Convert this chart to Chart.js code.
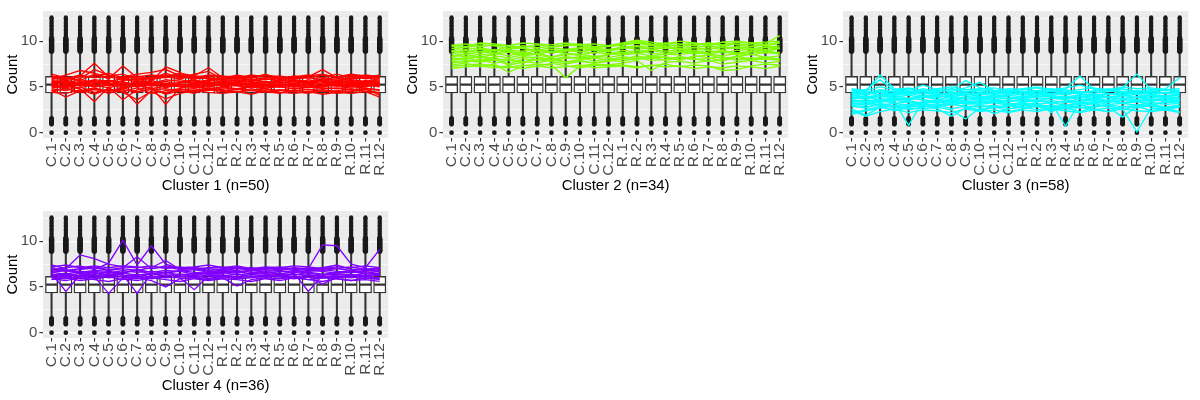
<!DOCTYPE html>
<html><head><meta charset="utf-8">
<script src="https://cdn.jsdelivr.net/npm/chart.js@4.4.1/dist/chart.umd.min.js"></script>
<style>
html,body{margin:0;padding:0;background:#ffffff;}
#wrap{position:relative;width:1200px;height:400px;}
#wrap canvas{position:absolute;}
</style></head><body>
<div id="wrap">
<canvas id="p1" width="400" height="200" style="left:0px;top:0px"></canvas>
<canvas id="p2" width="400" height="200" style="left:400px;top:0px"></canvas>
<canvas id="p3" width="400" height="200" style="left:800px;top:0px"></canvas>
<canvas id="p4" width="400" height="200" style="left:0px;top:200px"></canvas>
</div>
<script>
// ---------- DATA ----------
const categories = ['C.1','C.2','C.3','C.4','C.5','C.6','C.7','C.8','C.9','C.10','C.11','C.12',
                    'R.1','R.2','R.3','R.4','R.5','R.6','R.7','R.8','R.9','R.10','R.11','R.12'];
const yTickValues = [0, 2.5, 5, 7.5, 10, 12.5];
const clusterTitles = ['Cluster 1 (n=50)','Cluster 2 (n=34)','Cluster 3 (n=58)','Cluster 4 (n=36)'];
const clusterColors = ['#FF0000','#80FF00','#00FFFF','#8000FF'];

// boxplot statistics per category (all samples)
const boxQ1     = [4.35,4.35,4.35,4.35,4.35,4.35,4.35,4.35,4.35,4.35,4.35,4.35,4.35,4.35,4.35,4.35,4.35,4.35,4.35,4.35,4.35,4.35,4.35,4.35];
const boxMedian = [5.25,5.25,5.25,5.25,5.25,5.25,5.25,5.25,5.25,5.25,5.25,5.25,5.25,5.25,5.25,5.25,5.25,5.25,5.25,5.25,5.25,5.25,5.25,5.25];
const boxQ3     = [6.15,6.15,6.15,6.15,6.15,6.15,6.15,6.15,6.15,6.15,6.15,6.15,6.15,6.15,6.15,6.15,6.15,6.15,6.15,6.15,6.15,6.15,6.15,6.15];
const whiskerLow  = [1.65,1.65,1.65,1.65,1.65,1.65,1.65,1.65,1.65,1.65,1.65,1.65,1.65,1.65,1.65,1.65,1.65,1.65,1.65,1.65,1.65,1.65,1.65,1.65];
const whiskerHigh = [8.8,8.8,8.8,8.8,8.8,8.8,8.8,8.8,8.8,8.8,8.8,8.8,8.8,8.8,8.8,8.8,8.8,8.8,8.8,8.8,8.8,8.8,8.8,8.8];
// outlier values (same set of values seen in every category)
const upperOutliersDense  = [8.9,9.0,9.1,9.2,9.3,9.4,9.5,9.6,9.7,9.8,9.9,10.0,10.1,10.2,10.3];
const upperOutliersSparse = [10.4,10.55,10.7,10.85,11.0,11.15,11.3,11.45,11.6,11.75,11.9,12.05,12.2,12.35,12.5,12.6];
const lowerOutliers = [0,0.92,1.0,1.1,1.2,1.3,1.4,1.5,1.58];

// member profiles of each cluster (C.1..C.12, R.1..R.12)
const cluster1Lines = [
[5.3,5.5,5.2,5.6,5.1,5.4,5.0,5.3,5.6,5.2,5.4,5.3,5.2,5.4,5.3,5.1,5.3,5.2,5.4,5.3,5.1,5.3,5.2,5.4],
[6.0,5.8,6.2,7.6,6.1,5.9,5.7,6.0,6.3,6.1,5.9,6.0,5.7,5.8,5.6,5.9,5.7,5.8,5.6,5.9,5.7,5.8,5.6,5.9],
[4.7,3.9,4.6,4.9,4.5,4.8,3.1,4.6,4.4,4.7,4.8,4.6,4.9,4.7,5.0,4.8,4.6,4.9,4.7,4.8,4.9,4.7,4.8,4.1],
[5.8,6.1,5.7,6.4,5.9,7.3,6.0,5.8,6.1,5.9,6.2,7.1,6.0,5.9,6.1,5.8,6.0,5.9,6.1,6.9,6.0,5.9,6.0,6.2],
[4.9,5.1,4.8,3.4,5.0,3.6,4.7,5.0,3.1,4.9,5.1,4.8,5.0,4.8,5.1,4.9,5.0,4.8,5.0,4.9,4.8,5.0,4.9,4.6],
[5.5,5.3,5.6,5.4,5.7,5.5,5.3,5.6,7.2,6.6,5.6,5.5,5.4,5.6,5.5,5.3,5.5,5.6,5.4,5.6,5.5,5.4,5.6,5.5],
[5.1,4.9,5.3,5.0,5.2,4.9,5.1,5.3,5.0,5.2,4.9,5.1,5.3,5.1,5.0,5.2,5.1,5.3,5.0,5.2,5.1,5.0,5.2,5.0],
[6.2,5.9,6.3,6.0,6.2,6.4,5.8,6.1,6.0,6.3,6.1,5.9,5.9,6.1,5.8,6.0,6.2,5.9,6.0,5.8,6.1,6.2,5.9,6.0],
[4.6,4.8,4.5,4.7,4.6,4.9,4.5,4.7,4.8,4.5,4.6,4.9,4.7,4.5,4.6,4.8,4.4,4.6,4.7,4.5,4.6,4.8,4.5,4.4],
[5.6,5.4,5.8,5.5,5.3,5.7,5.9,5.4,5.6,5.8,5.5,5.7,5.6,5.5,5.7,5.6,5.4,5.6,5.5,5.7,5.6,5.5,5.4,5.7],
[5.0,5.2,4.9,5.3,5.5,5.0,5.2,4.8,5.1,5.3,5.0,5.4,5.1,5.3,5.2,5.0,5.2,5.1,4.9,5.2,5.3,5.1,5.0,5.3],
[5.9,6.3,6.8,6.5,6.0,6.1,6.4,6.6,6.9,6.2,6.0,6.3,6.2,6.0,6.3,6.1,5.9,6.2,6.0,6.3,6.1,6.4,6.2,6.0],
[4.4,4.3,4.7,4.2,4.8,4.4,3.6,4.5,3.7,4.3,4.6,4.4,4.3,4.5,4.2,4.6,4.4,4.3,4.5,4.2,4.4,4.3,4.5,3.9],
[5.4,5.6,5.3,5.7,5.4,5.2,5.5,5.7,5.3,5.5,5.8,5.4,5.5,5.3,5.4,5.6,5.5,5.4,5.6,5.3,5.5,5.6,5.4,5.5],
[5.2,5.0,5.4,5.1,5.3,5.6,5.0,5.2,5.4,5.1,5.3,5.0,5.3,5.2,5.0,5.3,5.2,5.0,5.3,5.1,5.2,5.4,5.3,5.1],
[6.1,5.7,5.9,6.9,6.3,5.8,6.2,5.9,6.5,6.0,6.4,6.7,5.8,6.3,6.0,6.4,5.8,6.1,6.3,6.0,6.4,6.0,6.3,6.1],
[4.8,4.6,5.0,4.4,4.7,4.5,4.9,4.3,4.6,4.8,4.5,4.7,4.5,4.8,4.6,4.4,4.7,4.5,4.3,4.7,4.5,4.6,4.8,4.7],
[5.7,5.5,5.4,5.8,5.6,5.9,5.5,5.3,5.8,5.6,5.4,5.8,5.8,5.7,5.9,5.5,5.8,5.7,5.5,5.8,5.9,5.7,5.5,5.8],
[5.3,5.1,5.5,5.2,4.9,5.3,5.4,5.1,5.2,5.0,5.2,5.6,5.0,5.2,5.4,5.2,5.0,5.4,5.2,5.0,5.3,5.2,5.1,5.6],
[5.5,5.8,5.1,5.3,5.8,5.1,5.6,5.5,4.9,5.4,5.7,5.2,5.4,5.5,5.3,5.5,5.6,5.3,5.8,5.5,5.4,5.1,5.7,5.3],
[4.5,4.9,4.4,4.8,4.3,4.7,4.4,4.9,4.2,4.6,4.3,4.8,4.6,4.4,4.8,4.5,4.3,4.7,4.4,4.6,4.3,4.5,4.7,4.3],
[6.4,6.0,6.1,6.2,6.5,6.0,6.1,6.3,6.1,6.5,6.2,6.1,6.1,6.2,6.0,6.3,6.1,6.0,6.2,6.4,6.0,6.3,6.1,6.3]
];
const cluster2Lines = [
[9.4,9.3,9.6,9.5,9.2,9.5,9.3,9.4,9.6,9.5,9.3,9.4,9.6,9.8,9.5,9.7,9.4,9.6,9.8,9.5,9.7,9.6,9.5,9.8],
[8.2,8.0,8.4,8.1,7.9,8.3,8.2,8.0,8.3,8.1,8.4,8.2,8.5,8.7,8.4,8.6,8.5,8.8,8.6,8.4,8.7,8.5,8.8,8.6],
[7.4,7.6,7.2,7.5,6.6,7.3,7.5,7.4,6.0,7.3,7.5,7.4,7.6,7.9,6.8,7.7,7.8,7.6,7.9,7.5,7.7,7.9,7.6,7.8],
[8.8,9.0,8.7,9.1,8.9,8.6,9.0,8.8,9.1,8.9,8.7,9.0,9.2,9.4,9.1,9.3,9.2,9.0,9.3,9.1,9.4,9.2,9.1,9.3],
[7.8,7.7,8.0,7.6,7.9,7.8,7.6,8.0,7.7,7.9,7.6,7.8,8.1,8.0,8.3,7.9,8.2,8.0,8.1,8.3,7.9,8.2,8.0,8.1],
[9.0,8.7,9.2,8.9,9.1,9.3,8.8,9.1,8.9,9.2,9.0,8.8,9.5,10.0,9.7,9.4,9.6,9.8,9.5,9.9,9.6,9.4,9.7,10.6],
[8.5,8.3,8.6,8.4,8.2,8.5,8.7,8.3,8.5,8.6,8.3,8.5,8.8,8.6,9.0,8.7,8.9,8.6,8.8,9.0,8.7,8.9,8.7,8.8],
[7.2,7.4,7.5,7.3,7.1,7.4,7.2,7.6,7.3,7.1,7.4,7.3,7.4,7.2,7.3,7.5,7.2,7.4,7.3,6.8,6.9,7.3,7.5,7.4],
[9.5,9.7,9.4,9.6,9.5,9.3,9.6,9.4,9.5,9.7,9.4,9.5,9.7,9.9,9.6,9.8,9.7,9.5,9.8,9.6,9.9,9.8,9.6,9.9],
[8.0,8.2,7.8,8.3,7.5,8.1,7.9,8.2,7.7,8.0,8.2,7.9,8.3,8.1,8.4,8.2,8.0,8.3,8.5,8.1,8.3,8.6,8.2,8.4],
[8.7,8.5,8.9,8.6,8.8,8.4,8.6,8.9,8.7,8.5,8.8,8.6,9.0,8.8,9.1,8.9,9.1,8.8,9.0,8.7,9.0,9.1,8.9,9.2],
[7.6,7.9,7.7,8.0,7.4,7.7,8.0,7.8,7.5,7.8,7.6,7.9,7.8,8.2,7.9,8.0,8.3,8.1,7.8,8.0,8.2,7.9,8.1,7.9],
[9.2,9.1,9.3,9.0,9.4,9.2,9.0,9.3,9.1,9.3,9.2,9.1,9.3,9.5,9.3,9.2,9.4,9.3,9.5,9.3,9.2,9.4,9.3,9.5],
[8.3,8.6,8.1,8.7,8.4,8.8,8.5,8.2,8.7,8.4,8.1,8.6,8.6,9.0,8.7,8.5,8.8,9.0,8.6,8.9,8.5,8.8,9.0,8.7],
[7.0,7.2,7.3,7.1,7.3,7.0,7.3,7.1,7.2,7.4,7.1,7.2,7.3,7.1,7.4,7.2,7.3,7.0,7.2,7.1,7.3,7.2,7.0,7.3],
[8.9,8.8,9.1,8.7,9.0,8.9,9.2,8.7,9.0,8.8,9.1,8.9,9.4,9.1,9.3,9.5,9.0,9.3,9.1,9.4,9.3,9.0,9.4,9.2],
[7.9,8.1,8.3,7.9,8.1,7.6,8.3,7.9,8.1,8.3,7.8,8.1,8.0,8.4,8.1,8.3,7.9,8.4,8.2,7.8,8.4,8.0,8.3,8.0],
[9.6,9.4,9.8,9.7,9.5,9.8,9.7,9.6,9.8,9.6,9.7,9.5,9.8,10.1,9.9,9.7,10.0,9.8,9.6,9.9,10.0,9.8,9.9,10.0]
];
const cluster3Lines = [
[4.7,4.5,6.3,4.8,4.6,5.2,4.7,4.5,4.9,5.5,4.6,4.8,4.7,4.9,4.6,4.8,6.2,4.7,4.6,4.9,6.4,4.7,4.8,6.0],
[3.5,3.3,3.6,3.4,0.8,3.5,3.3,3.6,3.4,3.5,3.3,3.6,3.4,3.5,3.3,0.7,3.4,3.6,3.5,3.3,3.4,3.6,3.5,3.4],
[4.2,4.4,4.1,4.3,4.5,4.2,4.4,4.1,4.3,4.2,4.4,4.3,4.1,4.3,4.2,4.4,4.3,4.1,4.2,4.4,4.3,4.2,4.4,4.1],
[2.6,1.9,2.8,2.5,2.7,2.6,2.8,2.5,1.5,2.7,2.1,2.6,2.8,2.5,2.7,2.6,2.8,2.5,2.7,2.6,0.1,2.7,2.5,2.8],
[3.9,3.7,4.0,3.8,3.6,3.9,4.1,3.8,3.7,4.0,3.9,3.7,3.8,4.0,3.9,3.7,3.9,4.0,3.8,3.7,3.9,4.1,3.8,3.9],
[4.5,4.7,5.8,4.6,4.4,4.8,4.5,4.7,5.7,4.9,4.6,4.5,4.7,4.6,4.8,4.5,4.7,4.9,4.6,4.8,4.5,4.7,4.6,4.5],
[3.1,3.3,3.0,3.2,3.4,3.1,3.0,3.3,3.2,3.1,3.3,3.0,3.2,3.1,3.3,3.0,3.2,3.4,3.1,3.2,3.0,3.3,3.1,3.2],
[3.7,3.9,3.6,3.8,3.7,4.0,3.6,3.9,3.8,3.6,3.9,3.7,4.0,3.8,3.7,3.9,3.6,3.8,4.0,3.7,3.9,3.6,3.8,3.7],
[2.2,2.5,2.9,2.4,2.8,3.0,2.6,1.8,2.7,2.5,2.9,2.3,2.6,2.9,2.4,2.7,2.3,2.8,3.0,2.5,2.9,2.4,2.7,2.3],
[4.0,4.2,4.4,4.1,4.3,4.0,4.2,4.4,4.1,4.3,4.0,4.2,4.4,4.1,4.3,4.5,4.2,4.0,4.3,4.1,4.4,4.2,4.0,4.3],
[3.3,3.1,3.5,3.2,3.0,3.4,3.2,3.5,3.1,3.3,3.4,3.2,3.0,3.3,2.2,3.4,3.1,3.3,3.5,3.2,3.4,3.1,3.3,3.5],
[4.8,4.6,5.0,4.7,4.9,4.6,4.8,5.0,4.7,4.8,4.9,4.6,4.8,5.0,4.7,4.9,5.2,4.8,4.7,5.0,4.8,4.9,4.7,4.8],
[2.0,2.4,2.7,3.0,2.5,2.8,3.1,2.6,2.9,2.4,2.8,3.0,2.7,3.0,2.6,2.9,3.1,2.6,2.3,2.9,2.7,3.0,2.6,2.9],
[3.6,3.4,3.7,3.5,3.8,3.6,3.4,3.7,3.5,3.8,3.6,3.4,3.7,3.5,3.8,3.6,3.4,3.7,3.5,3.8,3.6,3.4,3.7,3.5],
[4.3,4.1,4.6,4.4,4.2,4.5,4.3,4.1,4.4,4.6,4.2,4.4,4.2,4.5,4.3,4.1,4.5,4.3,4.6,4.4,4.2,4.5,4.3,4.4],
[2.9,2.7,3.2,2.9,3.1,2.8,3.0,3.2,2.8,3.0,2.7,2.9,3.1,2.8,3.0,2.7,2.9,3.2,2.8,1.7,2.9,3.1,2.8,3.0],
[3.8,4.0,3.9,4.1,3.7,3.9,3.8,4.2,4.0,3.8,4.1,3.9,3.7,3.9,4.1,3.8,4.0,3.7,3.9,4.1,3.8,3.9,4.1,3.7],
[3.4,3.6,3.3,3.7,3.5,3.2,3.6,3.4,3.3,3.5,3.7,3.4,3.6,3.4,3.5,3.3,3.7,3.5,3.3,3.6,3.5,3.7,3.4,3.6],
[4.6,4.4,4.7,4.5,4.8,4.4,4.6,4.8,4.5,4.7,4.5,4.6,4.4,4.6,4.5,4.7,4.4,4.6,4.8,4.5,4.6,4.4,4.7,4.6],
[2.4,1.8,2.3,2.6,2.2,2.5,2.4,2.2,2.6,2.3,2.5,2.2,2.5,2.3,2.6,2.4,2.2,2.5,2.3,2.6,2.4,2.3,2.5,2.2],
[4.1,3.8,4.2,3.9,4.1,3.8,4.0,3.9,4.2,4.0,3.8,4.1,3.9,4.2,4.0,3.9,4.1,4.2,3.9,4.0,4.2,3.8,4.0,4.1],
[3.2,3.0,3.4,3.6,3.3,3.1,3.5,3.0,3.4,3.2,3.6,3.1,3.3,3.6,3.2,3.5,3.3,3.1,3.6,3.2,3.5,3.0,3.4,3.2],
[4.4,4.3,4.5,4.2,4.4,4.6,4.1,4.3,4.5,4.4,4.2,4.5,4.5,4.3,4.6,4.2,4.4,4.5,4.3,4.2,4.5,4.6,4.3,4.5],
[3.0,2.8,3.1,2.7,2.9,3.2,2.8,3.1,2.9,2.8,3.0,2.6,2.9,3.1,2.8,3.0,2.7,2.9,3.1,2.8,3.0,2.9,2.7,3.0]
];
const cluster4Lines = [
[7.4,7.0,8.5,8.1,7.5,7.2,7.1,7.3,7.0,7.2,6.9,7.1,7.2,7.0,7.1,6.9,7.1,7.0,6.9,7.1,7.0,6.8,6.9,7.0],
[6.5,4.5,6.3,6.6,6.2,6.5,6.3,6.4,6.6,6.3,6.5,6.4,6.5,6.7,6.4,6.6,6.5,6.3,6.6,6.4,6.5,6.7,6.4,6.5],
[6.0,6.2,5.9,6.1,4.3,6.0,6.2,5.9,6.1,6.0,4.7,6.2,6.1,5.9,6.0,6.2,6.1,5.9,6.1,6.0,6.2,6.1,5.9,6.0],
[6.8,7.1,7.3,6.9,7.6,10.1,7.4,9.5,7.5,7.0,7.1,6.8,7.0,7.2,6.9,7.1,6.9,7.1,7.0,9.6,9.5,7.5,7.1,9.1],
[6.3,6.5,6.2,6.4,6.6,6.3,4.3,6.5,6.2,6.4,6.3,6.5,6.6,6.3,6.5,6.4,6.2,6.5,4.5,6.3,6.4,6.2,6.5,6.3],
[7.1,6.8,7.0,7.2,6.9,7.1,8.3,7.0,7.2,6.9,7.1,7.0,6.9,7.1,6.8,7.0,7.2,6.9,7.1,6.8,7.0,7.2,6.9,7.1],
[5.8,6.0,5.7,5.9,6.1,5.8,6.0,5.7,5.0,5.9,6.0,5.8,6.0,5.1,5.8,6.0,5.9,6.1,5.8,6.0,5.9,5.7,6.0,5.8],
[6.6,6.4,6.7,6.5,6.3,6.6,6.8,6.4,6.6,6.7,6.4,6.6,6.7,6.5,6.8,6.6,6.4,6.7,6.5,6.3,6.6,6.8,6.5,6.7],
[6.2,6.4,6.1,6.3,6.0,6.2,6.4,6.1,6.3,6.2,6.0,6.3,6.3,6.1,6.4,6.2,6.4,6.1,6.3,6.2,6.0,6.3,6.2,6.4],
[7.0,6.7,6.9,7.1,6.8,7.0,6.8,7.1,7.9,6.9,7.0,6.7,6.8,7.0,6.9,6.7,7.0,6.8,6.9,7.1,7.4,6.9,7.0,6.8],
[5.9,5.7,6.0,5.8,5.6,5.9,5.7,6.0,5.8,5.6,5.9,5.7,5.9,5.8,5.6,5.9,5.7,6.0,5.8,5.6,5.9,5.7,5.8,5.6],
[6.7,6.9,6.6,6.8,6.7,6.5,6.9,6.6,6.8,6.7,6.9,6.6,6.8,6.6,6.9,6.7,6.8,6.6,6.7,6.9,6.7,6.6,6.8,6.7],
[6.4,6.2,6.5,6.2,6.4,6.1,6.3,6.5,6.2,6.4,6.1,6.3,6.2,6.4,6.1,6.3,6.2,6.4,6.3,6.1,6.3,6.4,6.1,6.3],
[7.2,7.4,7.1,7.3,7.1,7.3,7.2,7.0,7.3,7.1,7.2,7.4,7.1,7.3,7.0,7.2,7.1,7.3,7.2,7.0,7.2,7.1,7.3,7.1],
[6.1,5.9,6.2,6.0,6.3,6.1,5.9,6.2,6.0,6.1,6.3,5.9,6.2,6.0,6.2,6.1,6.3,6.0,6.1,5.3,6.1,6.0,6.2,5.9],
[6.6,6.8,6.5,6.7,6.5,6.8,6.6,6.7,6.5,6.8,6.6,6.5,6.7,6.8,6.6,6.5,6.7,6.6,6.8,6.7,6.5,6.6,6.7,6.9]
];
const clusterLines = [cluster1Lines, cluster2Lines, cluster3Lines, cluster4Lines];

// ---------- CHART ----------
const FONT = '"Liberation Sans", Arial, Helvetica, sans-serif';

const panelBg = {
  id: 'panelBg',
  beforeDraw(chart) {
    const {ctx, chartArea} = chart;
    ctx.save();
    ctx.fillStyle = '#EBEBEB';
    ctx.fillRect(chartArea.left, chartArea.top, chartArea.right - chartArea.left, chartArea.bottom - chartArea.top);
    ctx.restore();
  }
};

function pts(values) {
  const out = [];
  categories.forEach((c, i) => values.forEach(v => out.push({x: i + 1, y: v})));
  return out;
}

function makePanel(canvasId, k) {
  const datasets = [];
  clusterLines[k].forEach(line => {
    datasets.push({
      type: 'line', order: 0,
      data: line.map((v, i) => ({x: i + 1, y: v})),
      borderColor: clusterColors[k], borderWidth: 1.35, pointRadius: 0, tension: 0, fill: false
    });
  });
  datasets.push({
    type: 'scatter', order: 1,
    data: boxMedian.map((v, i) => ({x: i + 1, y: v})),
    pointStyle: 'line', pointRadius: 5.6, borderColor: '#333333', borderWidth: 2.4, backgroundColor: '#333333'
  });
  datasets.push({
    type: 'bar', order: 2, grouped: false,
    data: boxQ1.map((v, i) => ({x: i + 1, y: [v, boxQ3[i]]})),
    backgroundColor: '#FFFFFF', borderColor: '#333333', borderWidth: 1.3, borderSkipped: false,
    barThickness: 12.2
  });
  datasets.push({
    type: 'scatter', order: 3, data: pts(upperOutliersDense),
    pointRadius: 2.65, backgroundColor: '#1A1A1A', borderWidth: 0
  });
  datasets.push({
    type: 'scatter', order: 3, data: pts(upperOutliersSparse),
    pointRadius: 2.1, backgroundColor: '#1A1A1A', borderWidth: 0
  });
  datasets.push({
    type: 'scatter', order: 3, data: pts(lowerOutliers),
    pointRadius: 2.35, backgroundColor: '#1A1A1A', borderWidth: 0
  });
  datasets.push({
    type: 'bar', order: 4, grouped: false,
    data: whiskerLow.map((v, i) => ({x: i + 1, y: [v, whiskerHigh[i]]})),
    backgroundColor: '#333333', borderWidth: 0, barThickness: 1.4
  });

  new Chart(document.getElementById(canvasId), {
    type: 'bar',
    data: {datasets},
    plugins: [panelBg],
    options: {
      responsive: false, animation: false, devicePixelRatio: 1, events: [],
      layout: {padding: {left: 0, right: 7, top: 5, bottom: 0}},
      plugins: {legend: {display: false}, tooltip: {enabled: false}, title: {display: false}},
      scales: {
        x: {
          type: 'linear', min: 0.4, max: 24.6, offset: false,
          afterBuildTicks: s => { s.ticks = categories.map((c, i) => ({value: i + 1})); },
          afterFit: s => { s.height = 62; },
          ticks: {
            autoSkip: false, minRotation: 90, maxRotation: 90, padding: 1.5,
            color: '#4D4D4D', font: {family: FONT, size: 15.5},
            callback: (v, i) => categories[i]
          },
          grid: {color: '#FFFFFF', lineWidth: 1.1, offset: false, tickColor: '#333333', tickLength: 3.6, drawTicks: true},
          border: {display: false},
          title: {display: true, text: clusterTitles[k], color: '#000000', font: {family: FONT, size: 15}, padding: {top: 0, bottom: 5}}
        },
        y: {
          type: 'linear', min: -0.58, max: 13.3,
          afterBuildTicks: s => { s.ticks = yTickValues.map(v => ({value: v})); },
          afterFit: s => { s.width = 43; },
          ticks: {
            padding: 2, color: '#4D4D4D', font: {family: FONT, size: 15},
            callback: v => (v % 5 === 0 ? String(v) : '')
          },
          grid: {
            color: '#FFFFFF',
            lineWidth: c => (c.tick && c.tick.value % 5 === 0 ? 1.2 : 0.6),
            tickColor: c => (c.tick && c.tick.value % 5 === 0 ? '#333333' : 'rgba(0,0,0,0)'),
            tickLength: 3.6, drawTicks: true
          },
          border: {display: false},
          title: {display: true, text: 'Count', color: '#000000', font: {family: FONT, size: 15}, padding: {top: 4, bottom: 0}}
        }
      }
    }
  });
}

makePanel('p1', 0);
makePanel('p2', 1);
makePanel('p3', 2);
makePanel('p4', 3);
</script>
</body></html>
